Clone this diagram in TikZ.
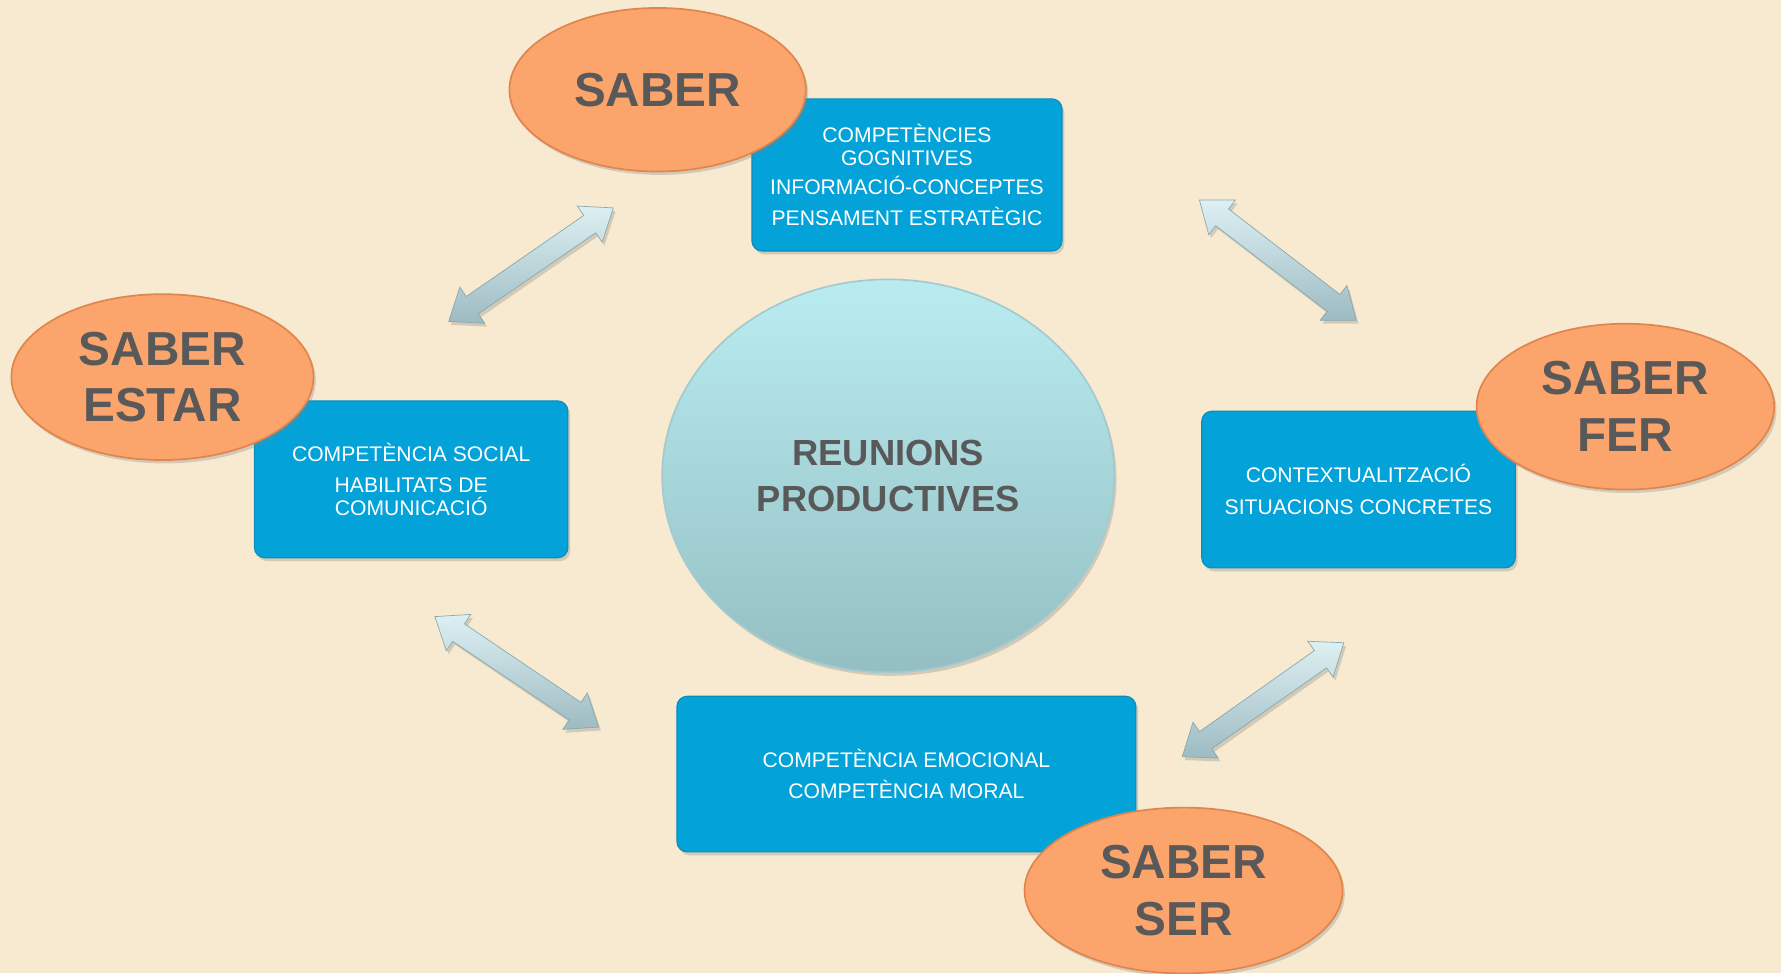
\documentclass[tikz,border=0pt]{standalone}
\usepackage{fontspec}
\setmainfont{Liberation Sans}
\usetikzlibrary{shapes.geometric,shapes.arrows,shadows}
\definecolor{bg}{HTML}{F7EAD0}
\definecolor{orfill}{HTML}{FBA46C}
\definecolor{oredge}{HTML}{E0854D}
\definecolor{bluefill}{HTML}{03A3D9}
\definecolor{blueedge}{HTML}{0A8EBE}
\definecolor{cyantop}{HTML}{B9ECF1}
\definecolor{cyanbot}{HTML}{94BFC2}
\definecolor{cyanedge}{HTML}{A3CBCF}
\definecolor{txtgray}{HTML}{595959}
\definecolor{arrtop}{HTML}{DDF0F3}
\definecolor{arrbot}{HTML}{9DBBC2}
\definecolor{arredge}{HTML}{88A7AE}
\begin{document}
\begin{tikzpicture}[x=1pt,y=-1pt,
  softshadow/.style={drop shadow={opacity=0.3,shadow xshift=2pt,shadow yshift=-3pt}},
  sabell/.style={ellipse, fill=orfill, draw=oredge, line width=1.5pt, text=txtgray,
    font=\fontsize{42}{50}\selectfont\bfseries, align=center, inner sep=0pt, softshadow},
  compbox/.style={rectangle, rounded corners=9pt, fill=bluefill, draw=blueedge, line width=1pt,
    text=white, font=\fontsize{18.6}{20}\selectfont, align=center, inner sep=0pt, softshadow},
  dblarrow/.style={double arrow, double arrow head extend=10pt, double arrow tip angle=75,
    inner xsep=0pt, inner ysep=9pt, top color=arrtop, bottom color=arrbot,
    draw=arredge, line width=0.6pt, softshadow},
  hub/.style={ellipse, top color=cyantop, bottom color=cyanbot, draw=cyanedge, line width=1.5pt,
    text=txtgray, font=\fontsize{32}{40}\selectfont\bfseries, align=center, inner sep=0pt, softshadow}
]
\useasboundingbox (0,0) rectangle (1568,857);
\fill[bg] (0,0) rectangle (1568,857);

% arrows
\node[dblarrow, minimum height=176pt, rotate=34.6] (arr1) at (467.5,233) {};
\node[dblarrow, minimum height=174pt, rotate=-37.5] (arr2) at (1125,229) {};
\node[dblarrow, minimum height=174pt, rotate=-34] (arr3) at (455,591.5) {};
\node[dblarrow, minimum height=174pt, rotate=35.2] (arr4) at (1112,616) {};

% centre
\node[hub, minimum width=398pt, minimum height=346pt] (hub) at (782,419) {REUNIONS\\PRODUCTIVES};

% boxes
\node[compbox, minimum width=273pt, minimum height=134pt] (btop) at (798.5,154)
  {COMPETÈNCIES\\GOGNITIVES\\[6pt]INFORMACIÓ-CONCEPTES\\[7pt]PENSAMENT ESTRATÈGIC};
\node[compbox, minimum width=276pt, minimum height=138pt] (bleft) at (362,422)
  {COMPETÈNCIA SOCIAL\\[8pt]HABILITATS DE\\COMUNICACIÓ};
\node[compbox, minimum width=276pt, minimum height=138pt] (bright) at (1196,431)
  {CONTEXTUALITZACIÓ\\[8pt]SITUACIONS CONCRETES};
\node[compbox, minimum width=404pt, minimum height=137pt] (bbottom) at (798,681.5)
  {COMPETÈNCIA EMOCIONAL\\[7pt]COMPETÈNCIA MORAL};

% ellipses
\node[sabell, minimum width=261pt, minimum height=144pt] (esaber) at (579,79) {SABER};
\node[sabell, minimum width=266pt, minimum height=146pt] (eestar) at (143,332) {SABER\\ESTAR};
\node[sabell, minimum width=262pt, minimum height=146pt] (efer) at (1431,358) {SABER\\FER};
\node[sabell, minimum width=280pt, minimum height=146pt] (eser) at (1042,784) {SABER\\SER};
\end{tikzpicture}
\end{document}
